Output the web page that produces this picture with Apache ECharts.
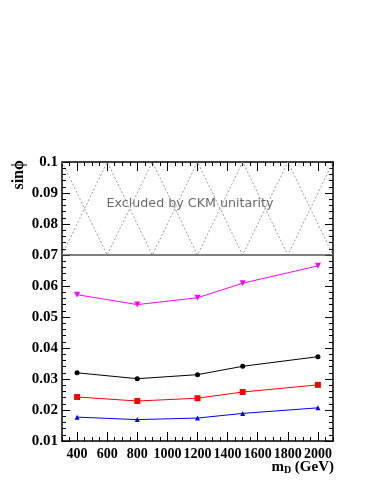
<!DOCTYPE html>
<html>
<head>
<meta charset="utf-8">
<script src="https://cdn.jsdelivr.net/npm/echarts@6/dist/echarts.min.js"></script>
<style>
html, body { margin: 0; padding: 0; background: #fff; }
#main { width: 383px; height: 495px; }
</style>
</head>
<body>
<div id="main"></div>
<script>
var masses = [400, 800, 1200, 1500, 2000];
var magentaVals = [0.0572, 0.0540, 0.0562, 0.0609, 0.0665];
var blackVals = [0.0320, 0.0301, 0.0314, 0.0341, 0.0372];
var redVals = [0.0242, 0.0229, 0.0238, 0.0258, 0.0281];
var blueVals = [0.0177, 0.0169, 0.0174, 0.0189, 0.0207];
var xLabels = [400, 600, 800, 1000, 1200, 1400, 1600, 1800, 2000];
// hatch of the excluded band
var hatchX = [300, 600, 900, 1200, 1500, 1800, 2100];
var hatchA = [0.1, 0.07, 0.1, 0.07, 0.1, 0.07, 0.1];
var hatchB = [0.07, 0.1, 0.07, 0.1, 0.07, 0.1, 0.07];
var ckmLimit = 0.07;

function pairs(xs, ys) {
    return xs.map(function (x, i) { return [x, ys[i]]; });
}

var labelFont = {
    fontFamily: 'Liberation Serif',
    fontWeight: 'bold',
    fontSize: 15,
    color: '#000'
};
var axisLine = { show: true, lineStyle: { color: '#000', width: 1.5 } };

function xAx(pos, longTicks, labels) {
    return {
        type: 'value', position: pos, min: 300, max: 2100, interval: 50,
        axisLine: longTicks ? { show: false } : axisLine,
        splitLine: { show: false },
        axisTick: longTicks
            ? { show: true, inside: true, length: 9, customValues: xLabels, lineStyle: { color: '#000' } }
            : { show: true, inside: true, length: 4, lineStyle: { color: '#000' } },
        axisLabel: labels
            ? Object.assign({}, labelFont, {
                show: true, margin: 6, customValues: xLabels, hideOverlap: false, fontSize: 14,
                formatter: function (v) { return String(v); }
            })
            : { show: false }
    };
}

function yAx(pos, labels) {
    return {
        type: 'value', position: pos, min: 0.01, max: 0.1, interval: 0.01,
        axisLine: axisLine,
        splitLine: { show: false },
        axisTick: { show: true, inside: true, length: 8, lineStyle: { color: '#000' } },
        minorTick: { show: true, splitNumber: 5, length: 4, lineStyle: { color: '#000' } },
        axisLabel: labels ? Object.assign({ show: true, margin: 4 }, labelFont) : { show: false }
    };
}

function dataLine(name, vals, color, symbol, size, rotate) {
    return {
        name: name, type: 'line', data: pairs(masses, vals),
        symbol: symbol, symbolSize: size, symbolRotate: rotate || 0,
        lineStyle: { color: color, width: 1 },
        itemStyle: { color: color },
        z: 5, animation: false
    };
}

var myChart = echarts.init(document.getElementById('main'));
var option = {
    animation: false,
    grid: { left: 62, top: 162, right: 50, bottom: 54, containLabel: false },
    xAxis: [xAx('bottom', false, true), xAx('bottom', true, false), xAx('top', false, false), xAx('top', true, false)],
    yAxis: [yAx('left', true), yAx('right', false)],
    series: [
        {
            type: 'line', data: pairs(hatchX, hatchA), symbol: 'none',
            lineStyle: { color: '#999', width: 1, type: [2, 2] }, silent: true
        },
        {
            type: 'line', data: pairs(hatchX, hatchB), symbol: 'none',
            lineStyle: { color: '#999', width: 1, type: [2, 2] }, silent: true
        },
        {
            type: 'line', data: [[300, ckmLimit], [2100, ckmLimit]], symbol: 'none',
            lineStyle: { color: '#555', width: 1.5 }, silent: true
        },
        dataLine('magenta', magentaVals, '#ff00ff', 'triangle', 6, 180),
        dataLine('black', blackVals, '#000000', 'circle', 5),
        dataLine('red', redVals, '#ff0000', 'rect', 6),
        dataLine('blue', blueVals, '#0000ff', 'triangle', 5)
    ],
    graphic: [
        {
            type: 'text', x: 190, y: 204,
            style: {
                text: 'Excluded by CKM unitarity', fill: '#6a6a6a', font: '12.7px "DejaVu Sans"',
                align: 'center', verticalAlign: 'middle'
            }
        },
        {
            type: 'text', x: 19, y: 160, rotation: Math.PI / 2,
            style: { text: 'sinϕ', fill: '#000', font: 'bold 16px "Liberation Serif"', align: 'right', verticalAlign: 'middle' }
        },
        {
            type: 'text', x: 334, y: 467,
            style: {
                text: '{m|m}{s|D}{m| (GeV)}', align: 'right', verticalAlign: 'middle',
                rich: {
                    m: { font: 'bold 15px "Liberation Serif"', fill: '#000' },
                    s: { font: 'bold 10px "Liberation Serif"', fill: '#000', padding: [6, 0, 0, 0] }
                }
            }
        }
    ]
};
myChart.setOption(option);
</script>
</body>
</html>
